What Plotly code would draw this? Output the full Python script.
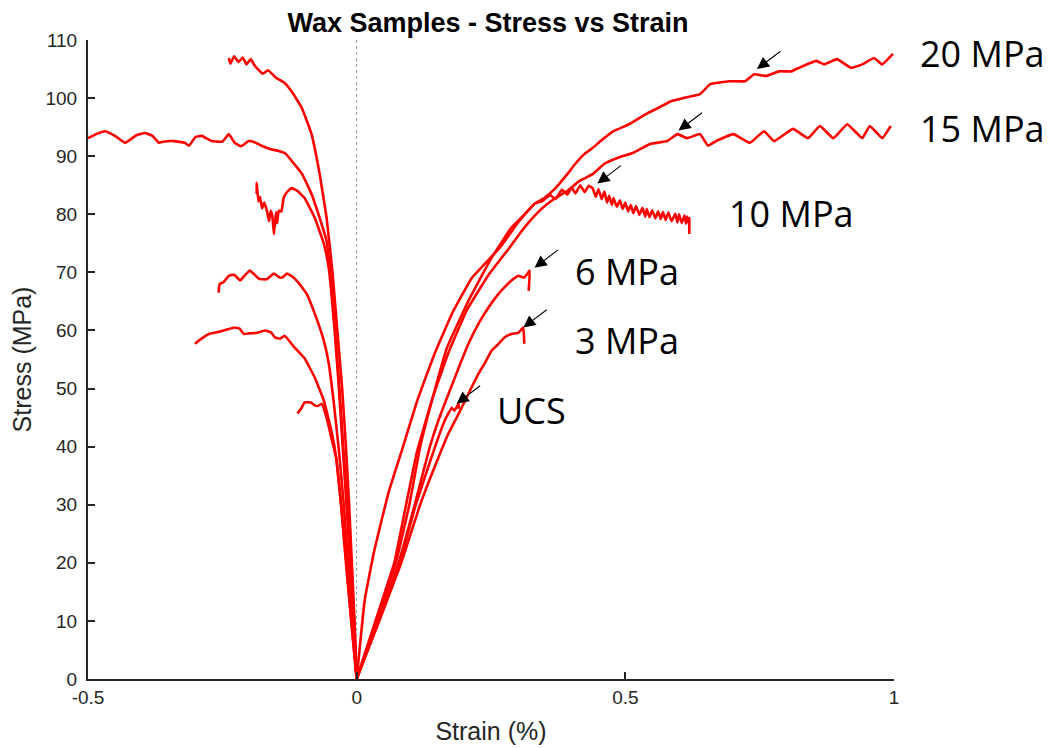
import plotly.graph_objects as go

# ---------------- data (strain %, stress MPa) ----------------
# Axial strain branches (positive strain)
ax_20_x = [0, 0.015, 0.033, 0.059, 0.084, 0.113, 0.145, 0.178, 0.214, 0.266, 0.299, 0.314, 0.331, 0.349,
           0.370, 0.392, 0.407, 0.424, 0.439, 0.454, 0.478, 0.507, 0.539, 0.561, 0.586, 0.608, 0.639, 0.658,
           0.693, 0.723, 0.740, 0.762, 0.786, 0.809, 0.823, 0.855, 0.870, 0.894, 0.920, 0.941, 0.963, 0.978, 0.998]
ax_20_y = [0, 13.6, 22.2, 32.0, 39.3, 48.0, 56.0, 63.0, 69.0, 74.2, 78.4, 80.1, 81.8, 82.8,
           84.5, 86.9, 88.7, 90.4, 91.4, 92.6, 94.3, 95.5, 97.3, 98.3, 99.5, 100.0, 100.7, 102.4,
           102.9, 102.9, 104.1, 103.8, 104.6, 104.6, 105.2, 106.4, 105.8, 106.7, 105.2, 105.8, 106.9, 105.8, 107.6]

ax_15_x = [0, 0.035, 0.070, 0.092, 0.112, 0.140, 0.170, 0.205, 0.245, 0.284, 0.303, 0.323, 0.346, 0.370,
           0.392, 0.414, 0.439, 0.461, 0.485, 0.515, 0.546, 0.578, 0.597, 0.615, 0.639, 0.654, 0.669, 0.701,
           0.732, 0.758, 0.777, 0.812, 0.840, 0.862, 0.887, 0.913, 0.941, 0.955, 0.978, 0.994]
ax_15_y = [0, 10.0, 20.0, 30.0, 39.0, 48.0, 56.0, 63.5, 69.5, 74.2, 76.6, 78.9, 81.1, 82.8,
           84.0, 85.7, 86.9, 88.7, 89.7, 90.6, 92.1, 92.6, 93.8, 93.1, 93.8, 91.8, 92.6, 93.8,
           92.3, 94.3, 92.6, 94.7, 93.1, 95.2, 93.1, 95.5, 93.1, 95.2, 93.1, 95.2]

ax_10_x = [0, 0.037, 0.073, 0.098, 0.118, 0.140, 0.168, 0.208, 0.251, 0.288, 0.314, 0.331, 0.346, 0.360,
           0.370, 0.382, 0.392, 0.400, 0.407, 0.416, 0.424, 0.432, 0.439, 0.445, 0.450, 0.456, 0.461, 0.466,
           0.470, 0.475, 0.478, 0.484, 0.490, 0.495, 0.500, 0.505, 0.510, 0.515, 0.520, 0.526, 0.532, 0.537,
           0.540, 0.545, 0.550, 0.556, 0.561, 0.566, 0.570, 0.575, 0.580, 0.586, 0.593, 0.597, 0.600, 0.605,
           0.610, 0.613, 0.615, 0.617, 0.619, 0.619]
ax_10_y = [0, 10.0, 20.0, 30.0, 39.9, 47.9, 57.0, 65.1, 72.5, 77.7, 80.1, 81.8, 82.3, 83.3,
           82.6, 84.2, 83.4, 84.6, 83.6, 85.0, 83.8, 84.9, 84.5, 83.0, 84.3, 82.6, 83.9, 82.0,
           83.2, 81.6, 82.8, 81.3, 82.4, 80.9, 82.0, 80.5, 81.6, 80.2, 81.4, 79.9, 81.1, 79.6,
           80.9, 79.5, 80.7, 79.3, 80.5, 79.2, 80.4, 79.0, 80.3, 78.8, 80.1, 78.6, 80.0, 78.5,
           79.8, 78.4, 79.6, 78.6, 79.4, 76.6]

ax_6_x = [0, 0.040, 0.078, 0.108, 0.136, 0.152, 0.171, 0.190, 0.208, 0.227, 0.245, 0.264, 0.275, 0.288,
          0.301, 0.312, 0.322, 0.320]
ax_6_y = [0, 10.0, 20.0, 30.0, 39.9, 44.5, 49.1, 53.6, 57.7, 61.2, 63.9, 66.3, 67.4, 68.6,
          69.4, 69.1, 70.3, 66.8]

ax_3_x = [0, 0.042, 0.083, 0.118, 0.152, 0.171, 0.190, 0.208, 0.227, 0.238, 0.251, 0.264, 0.275, 0.288,
          0.301, 0.310, 0.312]
ax_3_y = [0, 10.0, 20.0, 30.0, 38.1, 42.3, 45.7, 49.1, 52.6, 54.3, 56.5, 57.7, 58.8, 59.4,
          59.6, 60.5, 57.7]

ax_ucs_x = [0, 0.040, 0.080, 0.110, 0.139, 0.152, 0.164, 0.177, 0.182, 0.190, 0.190]
ax_ucs_y = [0, 10.0, 20.0, 30.0, 38.1, 41.6, 44.5, 46.7, 46.2, 47.4, 46.5]

# Lateral strain branches (negative strain)
lat_20_x = [0, -0.004, -0.009, -0.014, -0.020, -0.027, -0.036, -0.045, -0.056, -0.069, -0.084, -0.102,
            -0.120, -0.134, -0.150, -0.165, -0.175, -0.190, -0.197, -0.205, -0.212, -0.220, -0.228, -0.235, -0.238]
lat_20_y = [0, 10, 20, 30, 40, 50, 60, 70, 79.4, 87.0, 93.8, 98.3,
            101.0, 102.6, 103.5, 104.8, 104.2, 105.6, 106.7, 105.8, 107.0, 106.2, 107.2, 105.9, 106.9]

lat_15_x = [0, -0.005, -0.010, -0.017, -0.025, -0.032, -0.040, -0.049, -0.056, -0.069, -0.084, -0.102,
            -0.121, -0.133, -0.145, -0.160, -0.177, -0.190, -0.201, -0.215, -0.227, -0.238, -0.250, -0.270,
            -0.288, -0.300, -0.312, -0.320, -0.340, -0.360, -0.368, -0.380, -0.394, -0.410, -0.431, -0.450,
            -0.468, -0.485, -0.500]
lat_15_y = [0, 10, 20, 30, 40, 50, 60, 70, 75.4, 79.4, 83.5, 87.0,
            89.2, 90.5, 90.9, 91.2, 91.8, 92.4, 92.6, 91.7, 92.3, 93.8, 92.5, 92.6,
            93.5, 93.3, 91.8, 92.3, 92.6, 92.5, 92.3, 93.5, 94.0, 93.6, 92.3, 93.5,
            94.3, 93.8, 93.1]

lat_10_x = [0, -0.006, -0.012, -0.019, -0.026, -0.033, -0.041, -0.052, -0.061, -0.078, -0.097, -0.110,
            -0.121, -0.130, -0.136, -0.140, -0.145, -0.148, -0.150, -0.154, -0.157, -0.160, -0.163, -0.167,
            -0.172, -0.176, -0.180, -0.183, -0.186, -0.186]
lat_10_y = [0, 10, 20, 30, 40, 50, 60, 70.8, 74.9, 79.4, 82.8, 84.0,
            84.5, 83.8, 82.8, 80.5, 80.6, 78.5, 80.4, 76.6, 79.8, 80.6, 78.8, 80.6,
            82.0, 81.0, 83.0, 82.2, 85.4, 83.5]

lat_6_x = [0, -0.008, -0.016, -0.024, -0.033, -0.043, -0.052, -0.061, -0.078, -0.093, -0.108, -0.120,
           -0.130, -0.137, -0.143, -0.154, -0.168, -0.182, -0.190, -0.199, -0.208, -0.217, -0.228, -0.238,
           -0.248, -0.255, -0.257]
lat_6_y = [0, 10, 20, 30, 39.3, 47.9, 54.3, 58.2, 62.9, 66.3, 68.2, 69.3,
           69.8, 69.2, 69.1, 69.8, 68.8, 68.9, 69.6, 70.3, 69.5, 68.6, 69.6, 69.4,
           68.3, 68.0, 66.5]

lat_3_x = [0, -0.010, -0.019, -0.029, -0.038, -0.046, -0.061, -0.078, -0.097, -0.115, -0.134, -0.142,
           -0.152, -0.160, -0.171, -0.185, -0.200, -0.210, -0.218, -0.227, -0.240, -0.255, -0.275, -0.290, -0.301]
lat_3_y = [0, 10, 20, 30, 38.0, 42.3, 47.9, 51.9, 55.2, 57.0, 59.1, 58.6,
           58.8, 59.7, 60.0, 59.6, 59.5, 59.4, 60.3, 60.5, 60.2, 59.8, 59.4, 58.5, 57.7]

lat_ucs_x = [0, -0.010, -0.020, -0.029, -0.038, -0.046, -0.056, -0.065, -0.072, -0.078, -0.085, -0.097,
             -0.103, -0.110]
lat_ucs_y = [0, 10, 20, 30, 38.0, 41.1, 45.0, 47.4, 47.0, 47.1, 47.6, 47.6, 46.6, 45.7]

# Labels (data units) and arrow tips (data units)
label_text = ["20 MPa", "15 MPa", "10 MPa", "6 MPa", "3 MPa", "UCS"]
label_x = [1.165, 1.165, 0.810, 0.504, 0.504, 0.325]
label_y = [107.6, 94.7, 80.1, 70.1, 58.3, 46.2]
arrow_x = [0.745, 0.599, 0.448, 0.331, 0.310, 0.186]
arrow_y = [105.0, 94.4, 85.3, 70.8, 60.5, 47.4]

x_range = [-0.5, 1]
y_range = [0, 110]
x_ticks = [-0.5, 0, 0.5, 1]
x_ticktext = ["-0.5", "0", "0.5", "1"]
y_ticks = list(range(0, 111, 10))

# ---------------- figure ----------------
RED = "#FF0000"
fig = go.Figure()

branches = [
    (lat_20_x, lat_20_y), (lat_15_x, lat_15_y), (lat_10_x, lat_10_y),
    (lat_6_x, lat_6_y), (lat_3_x, lat_3_y), (lat_ucs_x, lat_ucs_y),
    (ax_ucs_x, ax_ucs_y), (ax_3_x, ax_3_y), (ax_6_x, ax_6_y),
    (ax_10_x, ax_10_y), (ax_15_x, ax_15_y), (ax_20_x, ax_20_y),
]
for bx, by in branches:
    fig.add_trace(go.Scatter(x=bx, y=by, mode="lines",
                             line=dict(color=RED, width=2.6, shape="spline", smoothing=0.3),
                             showlegend=False, hoverinfo="skip"))

# dotted reference line at zero strain
fig.add_shape(type="line", x0=0, x1=0, y0=0, y1=1, xref="x", yref="paper",
              line=dict(color="#9A9A9A", width=1, dash="dot"), layer="below")

# text labels placed in paper coordinates derived from the data units
for t, lx, ly in zip(label_text, label_x, label_y):
    px = (lx - x_range[0]) / (x_range[1] - x_range[0])
    py = (ly - y_range[0]) / (y_range[1] - y_range[0])
    fig.add_annotation(x=px, y=py, xref="paper", yref="paper", text=t, showarrow=False,
                       xanchor="center", yanchor="middle",
                       font=dict(family="Open Sans", size=36, color="#000000"))

for axx, ayy in zip(arrow_x, arrow_y):
    fig.add_annotation(x=axx, y=ayy, xref="x", yref="y", text="", showarrow=True,
                       ax=25, ay=-19, arrowhead=2, arrowsize=2.2, arrowwidth=1.1,
                       arrowcolor="#000000", standoff=0)

tick_font = dict(family="Liberation Sans, Arial", size=19, color="#262626")
axis_common = dict(showline=True, linecolor="#262626", linewidth=2,
                   ticks="inside", ticklen=7, tickwidth=2, tickcolor="#262626",
                   showgrid=False, zeroline=False, tickfont=tick_font, automargin=False)

fig.update_layout(
    width=1050, height=748,
    margin=dict(l=80, r=164, t=32, b=77),
    paper_bgcolor="white", plot_bgcolor="white",
    title=dict(text="<b>Wax Samples - Stress vs Strain</b>", x=480 / 1050, xref="container",
               xanchor="center", y=1 - 15 / 748, yanchor="middle", yref="container",
               font=dict(family="Liberation Sans, Arial", size=27, color="#000000")),
    xaxis=dict(range=x_range, tickvals=x_ticks, ticktext=x_ticktext,
               title=dict(text="Strain (%)", standoff=16,
                          font=dict(family="Liberation Sans, Arial", size=25, color="#262626")),
               **axis_common),
    yaxis=dict(range=y_range, tickvals=y_ticks, ticklabelstandoff=5,
               title=dict(text="Stress (MPa)", standoff=8,
                          font=dict(family="Liberation Sans, Arial", size=25, color="#262626")),
               **axis_common),
)

fig.write_html("out.html")
